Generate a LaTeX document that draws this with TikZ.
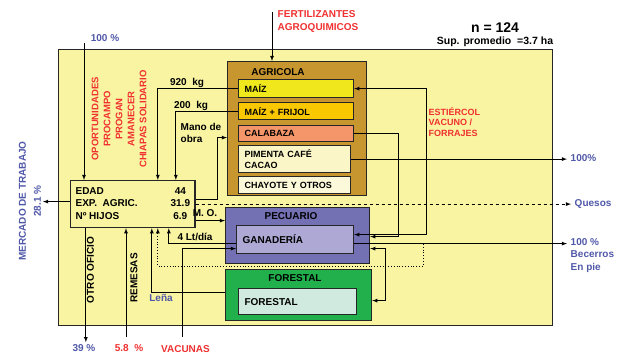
\documentclass[tikz,border=0pt]{standalone}
\usepackage{fontspec}
\setmainfont{Liberation Sans}
\usetikzlibrary{positioning}

\definecolor{fondo}{RGB}{248,244,162}
\definecolor{cafe}{RGB}{200,150,46}
\definecolor{maizc}{RGB}{240,232,28}
\definecolor{frijolc}{RGB}{250,200,0}
\definecolor{calabazac}{RGB}{244,150,106}
\definecolor{crema}{RGB}{250,246,200}
\definecolor{morado}{RGB}{116,112,180}
\definecolor{lila}{RGB}{173,168,212}
\definecolor{verde}{RGB}{34,176,76}
\definecolor{menta}{RGB}{208,234,223}
\definecolor{rojo}{RGB}{240,48,48}
\definecolor{azul}{RGB}{80,88,168}

\begin{document}
\begin{tikzpicture}[x=1pt,y=-1pt,>=latex,line width=0.8pt,
	every node/.style={font=\bfseries\fontsize{10}{12}\selectfont},
	caja/.style={draw=black!85,line width=1.2pt,anchor=north west,inner sep=0pt},
	sub/.style={draw=black!85,line width=1.2pt,anchor=north west,inner xsep=6pt,inner ysep=0pt,
		align=left,font=\bfseries\fontsize{9}{10.5}\selectfont},
	rot/.style={rotate=90}]
	\useasboundingbox (0,0) rectangle (626,354);

	% marco general
	\node[caja,fill=fondo,minimum width=494,minimum height=276] (finca) at (58,49) {};
	\node[font=\bfseries\fontsize{14}{16}\selectfont] (n) at (495,28) {n = 124};
	\node[font=\bfseries\fontsize{10.5}{12}\selectfont] (sup) at (495,42) {Sup. promedio\ \ =3.7 ha};

	% subsistema agricola
	\node[caja,fill=cafe,minimum width=139,minimum height=134] (agricola) at (227,61) {};
	\node (tagricola) at (278,72) {AGRICOLA};
	\node[sub,fill=maizc,text width=103,minimum height=18] (maiz) at (238,79) {MAÍZ};
	\node[sub,fill=frijolc,text width=103,minimum height=17] (frijol) at (238,102) {MAÍZ + FRIJOL};
	\node[sub,fill=calabazac,text width=103,minimum height=16] (calabaza) at (238,125) {CALABAZA};
	\node[sub,fill=crema,text width=100,minimum height=27] (pimenta) at (238,145) {PIMENTA CAFÉ\\CACAO};
	\node[sub,fill=crema!70!white,text width=100,minimum height=17] (chayote) at (238,176) {CHAYOTE Y OTROS};

	% subsistema pecuario
	\node[caja,fill=morado,minimum width=144,minimum height=56] (pecuario) at (225,207) {};
	\node (tpecuario) at (291,216) {PECUARIO};
	\node[sub,fill=lila,text width=105,minimum height=28,font=\bfseries\fontsize{10}{12}\selectfont] (ganaderia) at (236,225) {GANADERÍA};

	% subsistema forestal
	\node[caja,fill=verde,minimum width=146,minimum height=51] (forestal) at (225,269) {};
	\node (tforestal) at (295,278) {FORESTAL};
	\node[sub,fill=menta,text width=106,minimum height=26,font=\bfseries\fontsize{10}{12}\selectfont] (forestalin) at (238,288) {FORESTAL};

	% familia
	\node[caja,fill=fondo,minimum width=118,minimum height=47,inner xsep=5pt,anchor=north west,
		font=\bfseries\fontsize{10}{12.5}\selectfont] (persona) at (70,180)
		{\begin{tabular}{@{}p{83pt}c@{}}EDAD & 44\\ EXP.\ \ AGRIC. & 31.9\\ Nº HIJOS & 6.9\end{tabular}};

	% entradas
	\coordinate (c100) at (84,43);
	\node[text=azul] (p100) at (105,38) {100 \%};
	\draw[->] (c100) -- (c100 |- persona.north);
	\coordinate (cfert) at (272,12);
	\node[text=rojo,align=left,anchor=west,font=\bfseries\fontsize{10}{13}\selectfont] (fert) at (274,21.5) {FERTILIZANTES\\AGROQUIMICOS};
	\draw[->] (cfert) -- (cfert |- agricola.north);
	\node[rot,text=rojo,align=center,font=\bfseries\fontsize{9.5}{12}\selectfont] (programas) at (119,119)
		{OPORTUNIDADES\\PROCAMPO\\PROGAN\\AMANECER\\CHIAPAS SOLIDARIO};

	% flujos agricola - familia
	\draw[->] (maiz.west) -| ([xshift=25pt]persona.north);
	\node (k920) at (187,83) {920\ \ kg};
	\draw[->] (frijol.west) -| ([xshift=43pt]persona.north);
	\node (k200) at (191,106) {200\ \ kg};
	\draw[->] ([yshift=5pt]persona.east) -- ++(22,0) |- ([yshift=-9pt]agricola.west);
	\node[align=left,anchor=west] (mano) at (177,133) {Mano de\\obra};

	% estiercol y forrajes
	\draw[<->] (maiz.east) -- ++(72,0) |- ([yshift=5pt]ganaderia.east);
	\draw[->] (calabaza.east) -- ++(44,0) |- ([yshift=-1pt]pecuario.east);
	\node[text=rojo,align=left,anchor=west,font=\bfseries\fontsize{9}{10.5}\selectfont] (estiercol) at (425,122)
		{ESTIÉRCOL\\VACUNO /\\FORRAJES};

	% salidas
	\node[text=azul,anchor=west] (pct100b) at (567,158.5) {100\%};
	\draw[->] (pimenta.east) -- (pimenta.east -| pct100b.west);
	\node[text=azul,anchor=west] (quesos) at (571,203.5) {Quesos};
	\draw[dashed,->] (persona.east) -- (persona.east -| quesos.west);
	\node[text=azul,anchor=west,align=left,font=\bfseries\fontsize{10}{12.5}\selectfont] (becerros) at (567,255.5)
		{100 \%\\Becerros\\En pie};
	\draw[->] ([yshift=-4pt]ganaderia.east) -- ([yshift=-4pt]ganaderia.east -| becerros.west);
	\coordinate (cleche) at (423,244);
	\draw[dotted,->] (cleche) -- ++(0,22) -| ([xshift=25pt]persona.south);

	% flujos pecuario y forestal - familia
	\draw[->] ([yshift=-16.5pt]persona.east) -- ([yshift=-16.5pt]persona.east -| pecuario.west);
	\node (mo) at (205,213) {M. O.};
	\draw[->] ([yshift=-4pt]ganaderia.west) -| ([xshift=36pt]persona.south);
	\node (litros) at (195,237) {4 Lt/día};
	\coordinate (cvac) at (182,337);
	\draw[->] (cvac) |- ([yshift=-9pt]ganaderia.west);
	\node[text=rojo] (vacunas) at (185.5,349) {VACUNAS};
	\draw[->] ([yshift=2.5pt]forestal.west) -| ([xshift=19pt]persona.south);
	\node[text=azul] (lena) at (161,298) {Leña};
	\draw[<->] ([yshift=-13pt]pecuario.east) -- ++(15,0) |- ([yshift=-5.5pt]forestal.east);

	% otros ingresos y egresos
	\coordinate (crem) at (126,337);
	\draw[->] (crem) -- (crem |- persona.south);
	\node[text=rojo] (remp) at (129,348) {5.8\ \ \%};
	\node[rot] (remesas) at (134,278) {REMESAS};
	\draw[->] ([xshift=-47pt]persona.south) -- ++(0,114);
	\node[text=azul] (otrop) at (84,348) {39 \%};
	\node[rot] (otro) at (90.5,270) {OTRO OFICIO};
	\draw[->] ([yshift=2.5pt]persona.west) -- ++(-27,0);
	\node[rot,text=azul,align=center,font=\bfseries\fontsize{10}{15}\selectfont] (mercado) at (30,201)
		{MERCADO DE TRABAJO\\28.1 \%};
\end{tikzpicture}
\end{document}
